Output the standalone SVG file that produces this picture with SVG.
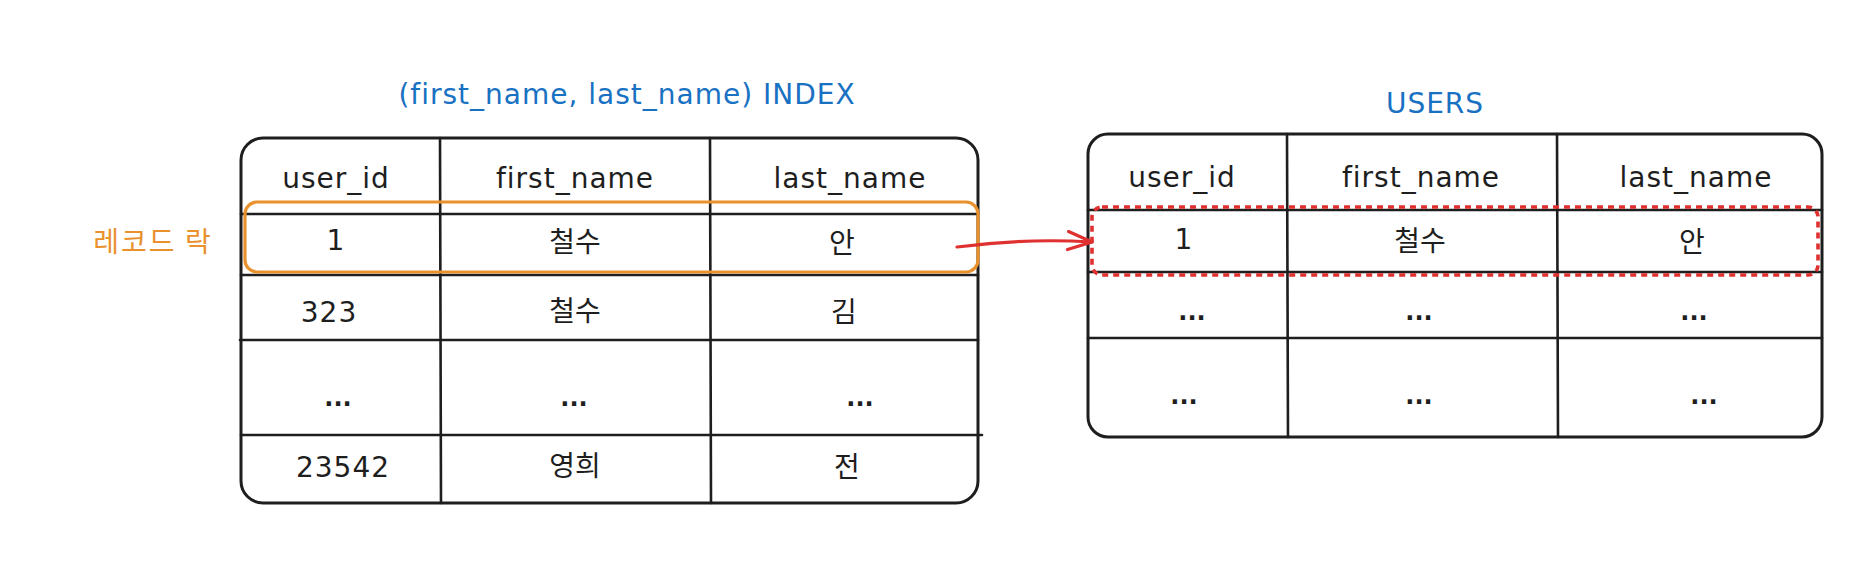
<svg xmlns="http://www.w3.org/2000/svg" width="1862" height="576" viewBox="0 0 1862 576">
<style>
  .bg { fill: #ffffff; }
  .frame { fill: none; stroke: #1e1e1e; stroke-width: 3; }
  .grid { stroke: #1e1e1e; stroke-width: 2.6; stroke-linecap: round; fill: none; }
  .t { font-family: "DejaVu Sans", "Noto Sans CJK KR", sans-serif; font-size: 28px; fill: #1e1e1e; text-anchor: middle; letter-spacing: 1px; }
  .k { font-family: "Noto Sans CJK KR", "DejaVu Sans", sans-serif; font-size: 28px; fill: #1e1e1e; text-anchor: middle; }
  .dots { font-weight: bold; font-size: 24px; letter-spacing: 0px; }
  .title { font-family: "DejaVu Sans", sans-serif; font-size: 28px; fill: #1971c2; text-anchor: middle; letter-spacing: 1px; }
  .orange { fill: none; stroke: #e8912d; stroke-width: 3.2; }
  .orangeText { font-family: "Noto Sans CJK KR", sans-serif; font-size: 28px; fill: #e8912d; text-anchor: middle; letter-spacing: 2px; }
  .reddash { fill: none; stroke: #e03131; stroke-width: 3.6; stroke-dasharray: 6 5; }
  .arrow { fill: none; stroke: #e03131; stroke-width: 3.2; stroke-linecap: round; }
</style>
<defs>
  <marker id="arrowhead" viewBox="0 0 28 22" refX="26" refY="11" markerWidth="28" markerHeight="22" markerUnits="userSpaceOnUse" orient="auto">
    <path d="M2,2 L26,11 L2,20" fill="none" stroke="#e03131" stroke-width="3.2" stroke-linecap="round" stroke-linejoin="round"/>
  </marker>
</defs>
<rect class="bg" x="0" y="0" width="1862" height="576"/>

<g id="title-index">
  <text class="title" x="627" y="104">(first_name, last_name) INDEX</text>
</g>

<g id="table-index">
  <rect class="frame" x="241" y="138" width="737" height="365" rx="22" ry="22"/>
  <line class="grid" x1="440" y1="138" x2="441" y2="503"/>
  <line class="grid" x1="710" y1="138" x2="711" y2="503"/>
  <line class="grid" x1="241" y1="214" x2="978" y2="214"/>
  <line class="grid" x1="241" y1="275" x2="978" y2="275"/>
  <line class="grid" x1="240" y1="340" x2="978" y2="340"/>
  <line class="grid" x1="241" y1="435" x2="982" y2="435"/>
  <text class="t" x="336" y="188">user_id</text>
  <text class="t" x="575" y="188">first_name</text>
  <text class="t" x="850" y="188">last_name</text>
  <text class="t" x="336" y="250">1</text>
  <text class="k" x="575" y="252">철수</text>
  <text class="k" x="842" y="253">안</text>
  <text class="t" x="329" y="322">323</text>
  <text class="k" x="575" y="321">철수</text>
  <text class="k" x="844" y="322">김</text>
  <text class="t dots" x="338" y="406">...</text>
  <text class="t dots" x="574" y="406">...</text>
  <text class="t dots" x="860" y="406">...</text>
  <text class="t" x="343" y="477">23542</text>
  <text class="k" x="575" y="476">영희</text>
  <text class="k" x="847" y="477">전</text>
</g>

<g id="record-lock-box">
  <rect class="orange" x="245" y="202" width="733" height="70" rx="12" ry="12"/>
</g>

<g id="record-lock-label">
  <text class="orangeText" x="153" y="252">레코드 락</text>
</g>

<g id="title-users">
  <text class="title" x="1435" y="113">USERS</text>
</g>

<g id="table-users">
  <rect class="frame" x="1088" y="134" width="734" height="303" rx="20" ry="20"/>
  <line class="grid" x1="1287" y1="134" x2="1288" y2="437"/>
  <line class="grid" x1="1557" y1="134" x2="1558" y2="437"/>
  <line class="grid" x1="1088" y1="210" x2="1822" y2="210"/>
  <line class="grid" x1="1088" y1="272" x2="1822" y2="272"/>
  <line class="grid" x1="1088" y1="338" x2="1822" y2="338"/>
  <text class="t" x="1182" y="187">user_id</text>
  <text class="t" x="1421" y="187">first_name</text>
  <text class="t" x="1696" y="187">last_name</text>
  <text class="t" x="1184" y="249">1</text>
  <text class="k" x="1420" y="251">철수</text>
  <text class="k" x="1692" y="252">안</text>
  <text class="t dots" x="1192" y="320">...</text>
  <text class="t dots" x="1419" y="320">...</text>
  <text class="t dots" x="1694" y="320">...</text>
  <text class="t dots" x="1184" y="404">...</text>
  <text class="t dots" x="1419" y="404">...</text>
  <text class="t dots" x="1704" y="404">...</text>
</g>

<g id="users-row-highlight">
  <rect class="reddash" x="1092" y="207" width="726" height="68" rx="10" ry="10"/>
</g>

<g id="connectors">
  <path class="arrow" d="M957,247 Q1025,238 1092,242" marker-end="url(#arrowhead)"/>
</g>
</svg>
